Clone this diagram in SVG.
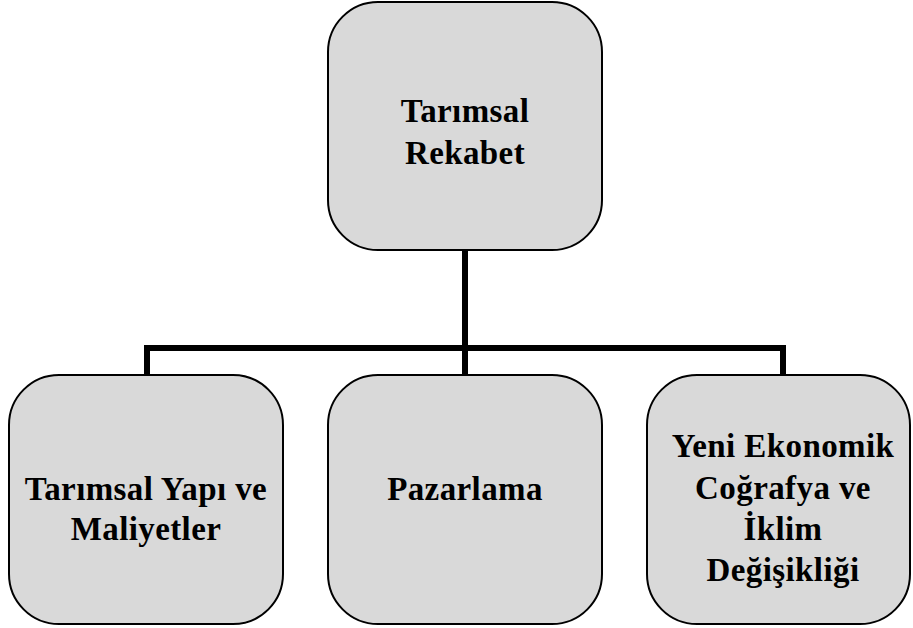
<svg xmlns="http://www.w3.org/2000/svg" width="913" height="628" viewBox="0 0 913 628">
<style>
.box{fill:#d9d9d9;stroke:#000;stroke-width:2}
.t{font-family:"Liberation Serif","Times New Roman",serif;font-weight:bold;font-size:33px;letter-spacing:0.4px;fill:#000;text-anchor:middle}
.c{fill:none;stroke:#000;stroke-width:6;stroke-linejoin:miter}
</style>
<rect width="913" height="628" fill="#fff"/>
<g id="connectors">
<path class="c" d="M465 250V348M147 375V348H783V375M465 348V375"/>
</g>
<g id="root">
<rect class="box" x="328" y="2" width="274" height="248" rx="50"/>
<text class="t" x="465" y="122">Tarımsal</text>
<text class="t" x="465" y="164">Rekabet</text>
</g>
<g id="n1">
<rect class="box" x="9" y="375" width="274" height="249" rx="50"/>
<text class="t" x="146" y="500">Tarımsal Yapı ve</text>
<text class="t" x="146" y="540">Maliyetler</text>
</g>
<g id="n2">
<rect class="box" x="328" y="375" width="274" height="249" rx="50"/>
<text class="t" x="465" y="500">Pazarlama</text>
</g>
<g id="n3">
<rect class="box" x="647" y="375" width="263" height="249" rx="50"/>
<text class="t" x="783" y="457">Yeni Ekonomik</text>
<text class="t" x="783" y="499">Coğrafya ve</text>
<text class="t" x="783" y="540">İklim</text>
<text class="t" x="783" y="581">Değişikliği</text>
</g>
</svg>
